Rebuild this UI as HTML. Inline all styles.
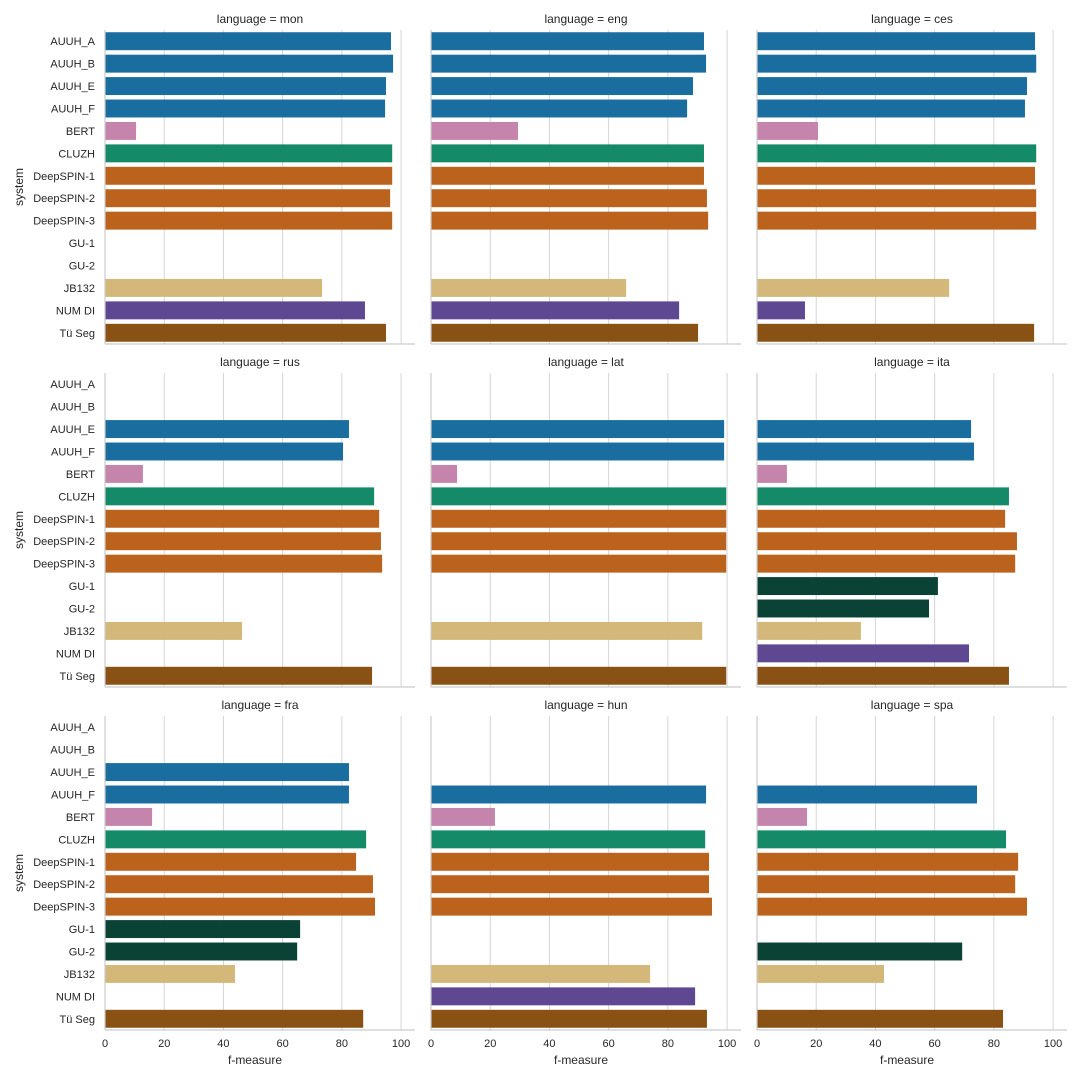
<!DOCTYPE html>
<html><head><meta charset="utf-8"><style>
body{margin:0;background:#fff;}
svg{display:block;font-family:"Liberation Sans","DejaVu Sans",sans-serif;}
</style></head><body>
<svg id="chart" width="1080" height="1080" viewBox="0 0 1080 1080"></svg>
<script>
const systems=["AUUH_A","AUUH_B","AUUH_E","AUUH_F","BERT","CLUZH","DeepSPIN-1","DeepSPIN-2","DeepSPIN-3","GU-1","GU-2","JB132","NUM DI","Tü Seg"];
const languages=["mon","eng","ces","rus","lat","ita","fra","hun","spa"];
const xTicks=[0,20,40,60,80,100];
const valsMon=[96.6,97.3,94.9,94.6,10.5,97,97,96.3,97,null,null,73.3,87.8,94.9];
const valsEng=[92.2,92.9,88.5,86.5,29.4,92.2,92.2,93.2,93.6,null,null,65.9,83.8,90.2];
const valsCes=[93.9,94.3,91.2,90.5,20.6,94.3,93.9,94.3,94.3,null,null,64.9,16.2,93.6];
const valsRus=[null,null,82.4,80.4,12.8,90.9,92.6,93.2,93.6,null,null,46.3,null,90.2];
const valsLat=[null,null,99,99,8.8,99.7,99.7,99.7,99.7,null,null,91.6,null,99.7];
const valsIta=[null,null,72.3,73.3,10.1,85.1,83.8,87.8,87.2,61.1,58.1,35.1,71.6,85.1];
const valsFra=[null,null,82.4,82.4,15.9,88.2,84.8,90.5,91.2,65.9,64.9,43.9,null,87.2];
const valsHun=[null,null,null,92.9,21.6,92.6,93.9,93.9,94.9,null,null,74,89.2,93.2];
const valsSpa=[null,null,null,74.3,16.9,84.1,88.2,87.2,91.2,null,69.3,42.9,null,83.1];
const allVals=[valsMon,valsEng,valsCes,valsRus,valsLat,valsIta,valsFra,valsHun,valsSpa];
const colors=["#1a6d9f","#1a6d9f","#1a6d9f","#1a6d9f","#c484ab","#158a68","#bb631d","#bb631d","#bb631d","#0a4236","#0a4236","#d4b87a","#5e4892","#8a5115"];
const NS="http://www.w3.org/2000/svg";
const svg=document.getElementById("chart");
function mk(tag,attrs,parent){const e=document.createElementNS(NS,tag);for(const k in attrs)e.setAttribute(k,attrs[k]);(parent||svg).appendChild(e);return e;}
const colX=[105,431,757], rowTop=[30,373,716], ph=314, pw=310, xmax=104.7;
languages.forEach((lang,i)=>{
  const c=i%3,r=Math.floor(i/3);
  const x0=colX[c],y0=rowTop[r];
  const g=mk("g",{});
  
  
  const xs=v=>x0+v/xmax*pw;
  const band=ph/systems.length;
  xTicks.forEach(t=>{
    const gl=mk("line",{x1:xs(t),x2:xs(t),y1:y0,y2:y0+ph,stroke:"#d5d5d5","stroke-width":1},g);
    
    
    if(r===2){
      const tl=mk("text",{x:xs(t),y:y0+ph+17,"text-anchor":"middle","font-size":11,fill:"#262626"},g);
      tl.textContent=t;
      
      
    }
  });
  allVals[i].forEach((v,j)=>{
    const cy=y0+band*(j+0.5);
    if(c===0){
      const yl=mk("text",{x:x0-10,y:cy+4,"text-anchor":"end","font-size":11,fill:"#262626"},g);
      yl.textContent=systems[j];
      
      
    }
    if(v==null)return;
    const b=mk("rect",{x:x0,y:cy-band*0.4,width:xs(v)-x0,height:band*0.8,fill:colors[j]},g);
    
    
  });
  mk("line",{x1:x0,x2:x0,y1:y0,y2:y0+ph,stroke:"#cccccc","stroke-width":1.2},g);
  mk("line",{x1:x0,x2:x0+pw,y1:y0+ph,y2:y0+ph,stroke:"#cccccc","stroke-width":1.2},g);
  const tt=mk("text",{x:x0+pw/2,y:y0-7,"text-anchor":"middle","font-size":12,fill:"#262626"},g);
  tt.textContent="language = "+lang;
  
  
  if(c===0){
    const yt=mk("text",{x:23,y:y0+ph/2,"text-anchor":"middle","font-size":12,fill:"#262626",transform:`rotate(-90 23 ${y0+ph/2})`},g);
    yt.textContent="system";
    
    
  }
  if(r===2){
    const xt=mk("text",{x:x0+pw/2-5,y:1064,"text-anchor":"middle","font-size":12,fill:"#262626"},g);
    xt.textContent="f-measure";
    
    
  }
});
</script>
</body></html>
